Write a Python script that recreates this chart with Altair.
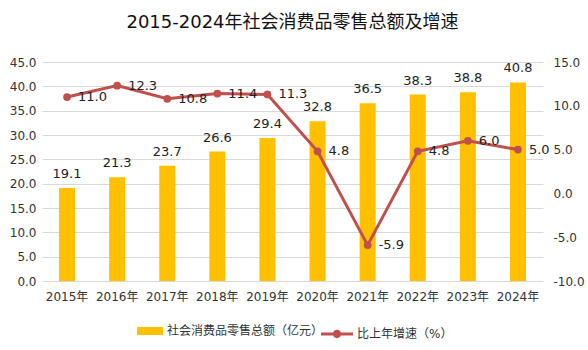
import altair as alt
import pandas as pd

years = ["2015年", "2016年", "2017年", "2018年", "2019年", "2020年", "2021年", "2022年", "2023年", "2024年"]
sales = [19.1, 21.3, 23.7, 26.6, 29.4, 32.8, 36.5, 38.3, 38.8, 40.8]
growth = [11.0, 12.3, 10.8, 11.4, 11.3, 4.8, -5.9, 4.8, 6.0, 5.0]

bar_name = "社会消费品零售总额（亿元）"
line_name = "比上年增速（%）"

df = pd.DataFrame({"year": years, "sales": sales, "growth": growth,
                   "s1": [bar_name] * len(years), "s2": [line_name] * len(years)})

FONT = "DejaVu Sans, Noto Sans CJK SC"
BAR_C = "#FFC000"
LINE_C = "#C0504D"
HYPHEN_FMT = "replace(format(datum.value, '.1f'), '\u2212', '-')"

x = alt.X("year:N", sort=years, title=None,
          scale=alt.Scale(paddingInner=0.68, paddingOuter=0.34),
          axis=alt.Axis(labelAngle=0, ticks=False, domain=False, labelPadding=10,
                        labelFontSize=12, labelColor="#333333", labelFont=FONT))

left_scale = alt.Scale(domain=[0, 45], nice=False)
right_scale = alt.Scale(domain=[-10, 15], nice=False)

y_left = alt.Y("sales:Q", title=None, scale=left_scale,
               axis=alt.Axis(values=[0, 5, 10, 15, 20, 25, 30, 35, 40, 45], format=".1f",
                             ticks=False, domain=False, gridColor="#D9D9D9", labelPadding=6,
                             labelFontSize=12, labelColor="#333333", labelFont=FONT))

y_right = alt.Y("growth:Q", title=None, scale=right_scale,
                axis=alt.Axis(orient="right", values=[-10, -5, 0, 5, 10, 15],
                              labelExpr=HYPHEN_FMT,
                              grid=False, ticks=False, domain=False, labelPadding=10,
                              labelFontSize=12, labelColor="#333333", labelFont=FONT))

bar_sym = "M-1,-0.31H1V0.31H-1Z"
line_sym = ("M-1,-0.094H1V0.094H-1Z "
            "M0.26,0A0.26,0.26,0,1,1,-0.26,0A0.26,0.26,0,1,1,0.26,0Z")

bars = alt.Chart(df).mark_bar(color=BAR_C).encode(
    x=x, y=y_left,
    color=alt.Color("s1:N", title=None,
                    scale=alt.Scale(range=[BAR_C]),
                    legend=alt.Legend(orient="none", legendX=95, legendY=256,
                                      symbolType=bar_sym, symbolSize=676,
                                      symbolStrokeWidth=0, labelFontSize=12,
                                      labelFont=FONT, labelColor="#333333",
                                      labelOffset=4))
)

bar_text = alt.Chart(df).mark_text(dy=-14, fontSize=13, font=FONT, color="#222222").encode(
    x=x, y=y_left,
    text=alt.Text("sales:Q", format=".1f")
)

left = alt.layer(bars, bar_text)

line = alt.Chart(df).mark_line(color=LINE_C, strokeWidth=3).encode(
    x=x, y=y_right,
    color=alt.Color("s2:N", title=None,
                    scale=alt.Scale(range=[LINE_C]),
                    legend=alt.Legend(orient="none", legendX=279, legendY=256,
                                      symbolType=line_sym, symbolSize=1024,
                                      symbolFillColor=LINE_C, symbolStrokeColor=LINE_C,
                                      symbolStrokeWidth=0, symbolOpacity=1,
                                      labelFontSize=12,
                                      labelFont=FONT, labelColor="#333333",
                                      labelOffset=4))
)
pts = alt.Chart(df).mark_point(filled=True, size=60, opacity=1, color=LINE_C).encode(
    x=x, y=y_right
)
line_text = alt.Chart(df).transform_calculate(
    glabel="replace(format(datum.growth, '.1f'), '\u2212', '-')"
).mark_text(align="left", dx=11, fontSize=13, font=FONT, color="#222222").encode(
    x=x, y=y_right,
    text="glabel:N"
)

right = alt.layer(line, pts, line_text)

chart = alt.layer(left, right).resolve_scale(y="independent", color="independent").properties(
    width=501, height=219,
    title=alt.TitleParams("2015-2024年社会消费品零售总额及增速", fontSize=18, font=FONT,
                          fontWeight="normal", color="#111111", anchor="middle", offset=24),
    autosize=alt.AutoSizeParams(type="none"),
    padding={"left": 42, "top": 62, "right": 45, "bottom": 69},
).configure_view(stroke=None)

chart.save("out.html", embed_options={"renderer": "svg", "actions": False})
